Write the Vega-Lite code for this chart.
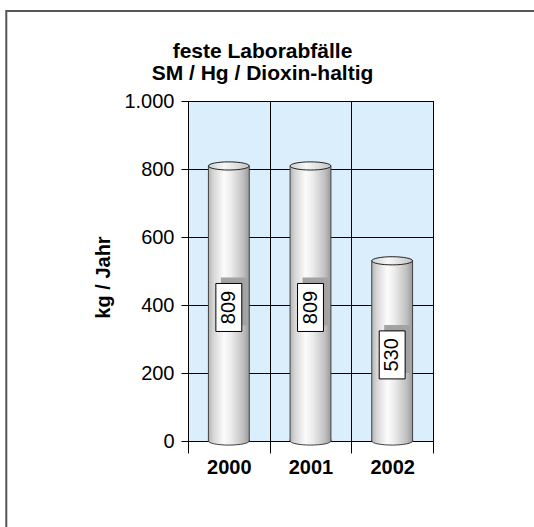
{
  "$schema": "https://vega.github.io/schema/vega-lite/v6.json",
  "width": 245,
  "height": 340,
  "autosize": {"type": "none"},
  "padding": {"left": 188, "top": 101, "right": 101, "bottom": 86},
  "background": "white",
  "title": {
    "text": ["feste Laborabfälle", "SM / Hg / Dioxin-haltig"],
    "fontSize": 21,
    "fontWeight": "bold",
    "font": "Liberation Sans",
    "color": "black",
    "anchor": "middle",
    "frame": "group",
    "dx": -48,
    "offset": -74,
    "lineHeight": 22
  },
  "data": {
    "values": [
      {"year": "2000", "value": 809},
      {"year": "2001", "value": 809},
      {"year": "2002", "value": 530}
    ]
  },
  "layer": [
    {
      "data": {"values": [{"frame": "outer"}]},
      "mark": {"type": "rect", "fill": "white", "fillOpacity": 0, "stroke": "#555555", "strokeWidth": 2},
      "encoding": {
        "x": {"datum": 1997.275, "type": "quantitative", "scale": {"domain": [1999.5, 2002.5], "nice": false, "zero": false}, "axis": null},
        "x2": {"datum": 2005},
        "y": {"datum": 1265, "type": "quantitative", "scale": {"domain": [0, 1000], "nice": false, "zero": false}, "axis": null},
        "y2": {"datum": -400}
      }
    },
    {
      "encoding": {
        "x": {
          "field": "year",
          "type": "nominal",
          "scale": {"paddingInner": 0, "paddingOuter": 0},
          "axis": {
            "title": null,
            "domain": false,
            "tickBand": "extent",
            "grid": true,
            "gridColor": "black",
            "gridOpacity": 1,
            "gridWidth": 1,
            "ticks": true,
            "tickColor": "black",
            "tickSize": 12,
            "labelFontSize": 20,
            "labelFontWeight": "bold",
            "labelColor": "black",
            "labelPadding": 4,
            "labelAngle": 0
          }
        }
      },
      "layer": [
        {
          "mark": {
            "type": "bar",
            "width": {"band": 0.5},
            "stroke": "#404040",
            "strokeWidth": 1,
            "fill": {
              "gradient": "linear",
              "x1": 0, "y1": 0, "x2": 1, "y2": 0,
              "stops": [
                {"offset": 0, "color": "#b4b4b4"},
                {"offset": 0.12, "color": "#d6d6d6"},
                {"offset": 0.38, "color": "#fbfbfb"},
                {"offset": 0.55, "color": "#ededed"},
                {"offset": 0.85, "color": "#c0c0c0"},
                {"offset": 1, "color": "#9a9a9a"}
              ]
            }
          },
          "encoding": {
            "y": {
              "field": "value",
              "type": "quantitative",
              "scale": {"domain": [0, 1000], "nice": false},
              "axis": {
                "values": [0, 100, 200, 300, 400, 500, 600, 700, 800, 900, 1000],
                "grid": true,
                "gridColor": "black",
                "gridOpacity": 1,
                "gridWidth": 1,
                "domain": false,
                "tickSize": 7,
                "tickColor": "black",
                "labelFontSize": 20,
                "labelPadding": 7,
                "labelColor": "black",
                "labelOverlap": false,
                "labelBound": false,
                "labelExpr": "datum.value % 200 ? '' : replace(format(datum.value, ','), ',', '.')",
                "title": "kg / Jahr",
                "titleFontSize": 20,
                "titleFontWeight": "bold",
                "titleColor": "black",
                "titleX": -85,
                "titleY": 176,
                "titleAngle": 270,
                "titleAlign": "center",
                "titleBaseline": "middle"
              }
            }
          }
        },
        {
          "mark": {
            "type": "point",
            "filled": true,
            "opacity": 1,
            "size": 1665,
            "shape": "M-1,-0.08 L-1,0 C-1,0.1105 -0.5523,0.2 0,0.2 C0.5523,0.2 1,0.1105 1,0 L1,-0.08",
            "stroke": "#404040",
            "strokeWidth": 1,
            "fill": {
              "gradient": "linear",
              "x1": 0, "y1": 0, "x2": 1, "y2": 0,
              "stops": [
                {"offset": 0, "color": "#b4b4b4"},
                {"offset": 0.12, "color": "#d6d6d6"},
                {"offset": 0.38, "color": "#fbfbfb"},
                {"offset": 0.55, "color": "#ededed"},
                {"offset": 0.85, "color": "#c0c0c0"},
                {"offset": 1, "color": "#9a9a9a"}
              ]
            }
          },
          "encoding": {
            "y": {"datum": 0, "type": "quantitative"}
          }
        },
        {
          "mark": {
            "type": "point",
            "filled": true,
            "opacity": 1,
            "size": 1665,
            "shape": "M-1,0 C-1,-0.1105 -0.5523,-0.2 0,-0.2 C0.5523,-0.2 1,-0.1105 1,0 C1,0.1105 0.5523,0.2 0,0.2 C-0.5523,0.2 -1,0.1105 -1,0 Z",
            "stroke": "#222222",
            "strokeWidth": 1,
            "fill": {
              "gradient": "linear",
              "x1": 0, "y1": 0, "x2": 1, "y2": 0,
              "stops": [
                {"offset": 0, "color": "#cfcfcf"},
                {"offset": 0.4, "color": "#f7f7f7"},
                {"offset": 1, "color": "#c4c4c4"}
              ]
            }
          },
          "encoding": {
            "y": {"field": "value", "type": "quantitative"}
          }
        }
      ]
    },
    {
      "encoding": {
        "x": {"field": "year", "type": "nominal", "scale": {"paddingInner": 0, "paddingOuter": 0}, "axis": null},
        "y": {"field": "value", "type": "quantitative", "scale": {"domain": [0, 2000], "nice": false}, "axis": null}
      },
      "layer": [
        {
          "mark": {
            "type": "point",
            "filled": true,
            "opacity": 1,
            "size": 2304,
            "shape": "M-0.54,-1 L0.54,-1 L0.54,1 L-0.54,1 Z",
            "fill": "#a3a3a3",
            "strokeWidth": 0,
            "xOffset": 5,
            "yOffset": -2
          }
        },
        {
          "mark": {
            "type": "point",
            "filled": true,
            "opacity": 1,
            "size": 2304,
            "shape": "M-0.54,-1 L0.54,-1 L0.54,1 L-0.54,1 Z",
            "fill": "white",
            "stroke": "black",
            "strokeWidth": 1,
            "yOffset": 4
          }
        },
        {
          "mark": {
            "type": "text",
            "angle": 270,
            "align": "center",
            "baseline": "middle",
            "fontSize": 20,
            "font": "Liberation Sans",
            "color": "black",
            "yOffset": 4
          },
          "encoding": {
            "text": {"field": "value", "type": "quantitative"}
          }
        }
      ]
    }
  ],
  "resolve": {"scale": {"x": "independent", "y": "independent"}},
  "config": {
    "font": "Liberation Sans",
    "view": {"stroke": "black", "strokeWidth": 1, "fill": "#dbeefc"},
    "axis": {"labelFont": "Liberation Sans", "titleFont": "Liberation Sans"}
  }
}
